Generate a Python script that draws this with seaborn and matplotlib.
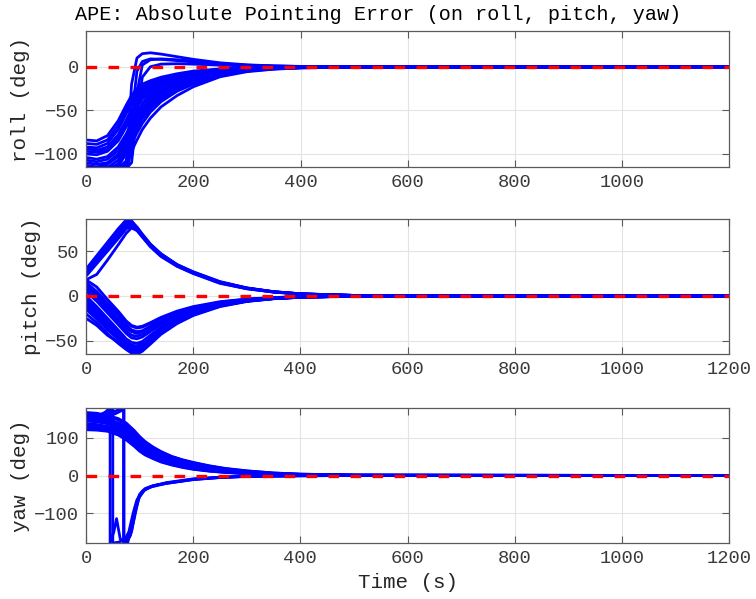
import numpy as np
import pandas as pd
import matplotlib
matplotlib.use("Agg")
import matplotlib.pyplot as plt
import seaborn as sns

# ---------------- data ----------------
TITLE = "APE: Absolute Pointing Error (on roll, pitch, yaw)"
XLABEL = "Time (s)"
YLABELS = ["roll (deg)", "pitch (deg)", "yaw (deg)"]

# common time grid for roll and pitch runs
t_rp = [0, 20, 40, 60, 75, 85, 95, 105, 120, 140, 170, 200, 250, 300, 350, 400, 500, 1200]

roll_slow = [
    [-84, -85, -79, -62, -44, -33, -25, -20, -16, -12, -8, -5, -2.5, -1.2, -0.6, -0.3, 0, 0],
    [-88, -89, -84, -67, -49, -38, -29, -23, -18, -13.5, -9, -6, -3, -1.4, -0.7, -0.3, 0, 0],
    [-92, -93, -88, -72, -54, -42, -33, -26, -20, -15, -10.5, -7, -3.5, -1.7, -0.8, -0.4, -0.1, 0],
    [-94, -96, -92, -78, -61, -49, -39, -31, -24, -18, -13, -9, -4.5, -2.2, -1, -0.5, -0.1, 0],
    [-97, -98, -95, -82, -65, -53, -42, -34, -27, -20, -14, -10, -5, -2.5, -1.2, -0.6, -0.1, 0],
    [-100, -101, -97, -85, -69, -57, -46, -37, -29, -22, -15.5, -11, -5.5, -2.7, -1.3, -0.6, -0.1, 0],
    [-104, -106, -103, -92, -77, -65, -53, -43, -34, -26, -18, -13, -6.5, -3.2, -1.6, -0.8, -0.1, 0],
    [-107, -109, -106, -96, -81, -69, -57, -47, -37, -28, -19.5, -14, -7, -3.5, -1.7, -0.8, -0.2, 0],
    [-110, -112, -110, -100, -85, -73, -61, -50, -39, -30, -21, -15, -7.5, -3.7, -1.8, -0.9, -0.2, 0],
    [-116, -118, -116, -107, -92, -80, -68, -57, -45, -35, -24.5, -17.5, -8.8, -4.3, -2.1, -1, -0.2, 0],
    [-122, -124, -123, -114, -100, -88, -76, -65, -52, -40, -28, -20, -10, -5, -2.5, -1.2, -0.2, 0],
    [-128, -130, -129, -122, -110, -97, -84, -72, -59, -46, -33, -23, -11.5, -5.7, -2.8, -1.4, -0.3, 0],
    [-119, -121, -119, -111, -95, -83, -71, -60, -48, -37, -26, -18.5, -9.3, -4.6, -2.3, -1.1, -0.2, 0],
    [-113, -115, -112, -103, -88, -76, -64, -53, -42, -32, -22.5, -16, -8, -4, -2, -1, -0.2, 0],
    [-125, -126, -125, -122, -112, -70, -38, -28, -21, -16, -11, -7.5, -3.8, -1.9, -0.9, -0.4, -0.1, 0],
    [-118, -119, -118, -116, -108, -80, -48, -34, -25, -19, -13, -9, -4.5, -2.2, -1, -0.5, -0.1, 0],
    [-130, -131, -130, -127, -118, -92, -60, -42, -31, -23, -16, -11, -5.5, -2.7, -1.3, -0.6, -0.1, 0],
]
roll_overshoot = [
    [-122, -123, -122, -121, -118, -20, 10, 15, 16, 14.5, 11.5, 8.5, 4.5, 2.2, 1, 0.4, 0.05, 0],
    [-125, -126, -125, -124, -121, -95, -30, 2, 8, 9, 8, 6.5, 3.5, 1.8, 0.8, 0.3, 0, 0],
    [-115, -116, -115, -114, -112, -60, -5, 6, 9, 8.5, 7, 5.5, 3, 1.5, 0.7, 0.3, 0, 0],
    [-119, -120, -119, -118, -117, -110, -55, -12, 0, 3, 3.5, 3, 1.8, 0.9, 0.4, 0.2, 0, 0],
]

pitch_up = [
    [30, 45, 60, 75, 85, 82, 74, 66, 56, 45, 34, 26, 15, 8.5, 4.5, 2.2, 0.5, 0],
    [28, 43, 58, 73, 83, 83, 75, 67, 57, 46, 34.5, 26.5, 15.5, 8.7, 4.6, 2.3, 0.5, 0],
    [27, 42, 57, 71, 82, 84, 77, 69, 58, 47, 35, 27, 16, 9, 4.8, 2.4, 0.5, 0],
    [25, 40, 54, 68, 79, 82, 77, 69, 58, 47, 35, 26.5, 15.5, 8.8, 4.6, 2.3, 0.5, 0],
    [24, 38, 52, 66, 76, 80, 76, 68, 57, 46, 34, 26, 15, 8.5, 4.5, 2.2, 0.5, 0],
    [22, 36, 50, 64, 75, 78, 74, 67, 56, 45, 33.5, 25.5, 14.5, 8, 4.3, 2.1, 0.5, 0],
    [18, 24, 40, 57, 70, 76, 73, 66, 55, 44, 33, 25, 14, 8, 4.2, 2, 0.4, 0],
]
pitch_down = [
    [15, 5, -8, -20, -30, -34, -36, -35, -31, -25, -18, -13, -7, -3.8, -2, -1, -0.2, 0],
    [10, 0, -13, -26, -36, -40, -42, -40, -35, -28, -20, -14.5, -8, -4.2, -2.2, -1.1, -0.2, 0],
    [5, -6, -19, -32, -42, -47, -48, -46, -40, -32, -23, -16.5, -9, -4.8, -2.5, -1.2, -0.2, 0],
    [0, -12, -25, -38, -48, -52, -53, -51, -44, -35, -25, -18, -10, -5.3, -2.7, -1.3, -0.3, 0],
    [-6, -18, -31, -43, -52, -57, -59, -56, -48, -38, -27, -19.5, -10.5, -5.6, -2.9, -1.4, -0.3, 0],
    [-12, -24, -37, -49, -58, -62, -64, -61, -52, -41, -29, -21, -11.5, -6, -3.1, -1.5, -0.3, 0],
    [-20, -30, -42, -53, -60, -64, -65, -62, -54, -43, -31, -22, -12, -6.3, -3.2, -1.6, -0.3, 0],
    [-25, -33, -44, -52, -56, -57, -56, -53, -46, -37, -27, -19.5, -10.5, -5.6, -2.9, -1.4, -0.3, 0],
    [12, 2, -10, -22, -33, -38, -40, -39, -34, -28, -20, -14, -7.5, -4, -2.1, -1, -0.2, 0],
    [-3, -15, -28, -41, -51, -55, -56, -54, -47, -37, -26.5, -19, -10.3, -5.5, -2.8, -1.4, -0.3, 0],
    [18, 10, -4, -17, -28, -33, -35, -34, -30, -24, -17, -12, -6.5, -3.5, -1.8, -0.9, -0.2, 0],
    [-15, -26, -38, -47, -54, -58, -61, -59, -51, -40, -28.5, -20.5, -11, -5.8, -3, -1.5, -0.3, 0],
    [8, -3, -16, -29, -39, -44, -45, -43, -38, -30, -21.5, -15.5, -8.5, -4.5, -2.3, -1.1, -0.2, 0],
    [-9, -21, -34, -46, -55, -60, -62, -59, -50, -39, -28, -20, -11, -5.8, -3, -1.5, -0.3, 0],
]

# yaw runs that decay from the top
t_yaw = [0, 20, 40, 60, 75, 90, 100, 110, 125, 140, 160, 180, 200, 230, 260, 300, 350, 400, 500, 1200]
yaw_top = [
    [168, 166, 160, 148, 134, 115, 100, 88, 74, 62, 50, 41, 34, 25, 18, 12, 6.5, 3.5, 1, 0],
    [160, 158, 152, 140, 127, 108, 94, 82, 68, 57, 46, 37, 30, 22, 16, 10.5, 5.5, 3, 0.8, 0],
    [152, 150, 145, 133, 120, 100, 87, 76, 63, 52, 42, 34, 27, 19.5, 14, 9, 4.8, 2.5, 0.7, 0],
    [145, 143, 138, 126, 112, 93, 80, 70, 58, 48, 38, 30, 24, 17, 12, 7.5, 4, 2.1, 0.6, 0],
    [138, 136, 131, 120, 106, 87, 74, 64, 53, 43, 34, 27, 21, 15, 10.5, 6.5, 3.4, 1.8, 0.5, 0],
    [130, 128, 124, 114, 100, 82, 69, 59, 48, 39, 30, 24, 18.5, 13, 9, 5.5, 2.9, 1.5, 0.4, 0],
    [122, 121, 118, 108, 95, 78, 65, 55, 45, 36, 28, 21.5, 16.5, 11.5, 8, 4.8, 2.5, 1.3, 0.3, 0],
    [165, 164, 160, 152, 140, 120, 104, 91, 76, 64, 51, 42, 35, 26, 19, 12.5, 6.8, 3.7, 1, 0],
    [156, 155, 150, 138, 124, 104, 90, 79, 66, 55, 44, 35, 28.5, 21, 15, 10, 5.2, 2.8, 0.8, 0],
    [134, 132, 128, 118, 104, 86, 72, 62, 51, 41, 32, 25.5, 20, 14, 10, 6, 3.1, 1.6, 0.4, 0],
    [148, 147, 143, 132, 118, 97, 84, 73, 60, 50, 40, 32, 25.5, 18, 13, 8.2, 4.4, 2.3, 0.6, 0],
    [126, 125, 121, 111, 98, 80, 67, 57, 46.5, 37.5, 29, 23, 17.5, 12.3, 8.5, 5.2, 2.7, 1.4, 0.3, 0],
]

# yaw runs that wrap through +180 / -180
yaw_wrap_t = [
    [0, 20, 35, 45, 45, 52, 57, 64, 75, 85, 92, 100, 110, 125, 150, 200, 250, 300, 400, 500, 1200],
    [0, 20, 38, 50, 50, 60, 72, 80, 88, 95, 105, 115, 130, 150, 200, 250, 300, 400, 500, 1200],
    [0, 20, 40, 55, 65, 71, 71, 78, 85, 92, 100, 110, 125, 150, 200, 250, 300, 400, 500, 1200],
    [0, 20, 40, 55, 70, 70, 76, 83, 90, 98, 108, 120, 150, 200, 250, 300, 400, 500, 1200],
]
yaw_wrap_v = [
    [150, 158, 168, 180, -180, -150, -115, -170, -175, -150, -95, -55, -38, -28, -19, -9, -4.5, -2, -0.5, -0.1, 0],
    [145, 152, 165, 180, -180, -178, -172, -150, -100, -65, -42, -33, -26, -20, -10, -5, -2.3, -0.6, -0.1, 0],
    [150, 152, 156, 165, 172, 180, -180, -178, -140, -85, -50, -35, -27, -21, -11, -5.5, -2.5, -0.6, -0.1, 0],
    [155, 160, 165, 172, 180, -180, -176, -160, -115, -62, -40, -31, -21, -10.5, -5.2, -2.4, -0.6, -0.1, 0],
]

ref_t = [0, 1200]
ref_v = [0, 0]

ylims = [(-115, 41), (-65, 86), (-180, 180)]
yticks = [[-100, -50, 0], [-50, 0, 50], [-100, 0, 100]]
xticks_all = [0, 200, 400, 600, 800, 1000, 1200]

# ---------------- build long tables ----------------
def table(times_list, values_list, prefix):
    rows = []
    for i, (tt, vv) in enumerate(zip(times_list, values_list)):
        for a, b in zip(tt, vv):
            rows.append((f"{prefix}{i}", a, b))
    return pd.DataFrame(rows, columns=["run", "t", "v"])

roll_runs = roll_slow + roll_overshoot
pitch_runs = pitch_up + pitch_down
df_roll = table([t_rp] * len(roll_runs), roll_runs, "r")
df_pitch = table([t_rp] * len(pitch_runs), pitch_runs, "p")
df_yaw = pd.concat([table([t_yaw] * len(yaw_top), yaw_top, "y"),
                    table(yaw_wrap_t, yaw_wrap_v, "w")], ignore_index=True)
frames = [df_roll, df_pitch, df_yaw]

# ---------------- style ----------------
sns.set_style("white")
plt.rcParams["font.family"] = ["Liberation Mono", "DejaVu Sans Mono"]

fig = plt.figure(figsize=(7.56, 5.99), dpi=100)
boxes = [
    [86 / 756, 1 - 167 / 599, 643 / 756, 136 / 599],
    [86 / 756, 1 - 354 / 599, 643 / 756, 135 / 599],
    [86 / 756, 1 - 543 / 599, 643 / 756, 135 / 599],
]
ref_df = pd.DataFrame({"t": ref_t, "v": ref_v})
for k in range(3):
    ax = fig.add_axes(boxes[k])
    sns.lineplot(data=frames[k], x="t", y="v", units="run", estimator=None,
                 sort=False, color="#0000ff", linewidth=2.0, ax=ax, legend=False)
    sns.lineplot(data=ref_df, x="t", y="v", color="#ff0000", linewidth=2.4,
                 linestyle=(0, (3.2, 3.4)), ax=ax, legend=False, zorder=5)
    ax.set_ylim(*ylims[k])
    if k == 0:
        ax.set_xlim(0, 1199)
        ax.set_xticks(xticks_all[:-1])
    else:
        ax.set_xlim(0, 1200)
        ax.set_xticks(xticks_all)
    ax.set_yticks(yticks[k])
    ax.grid(True, color="#e3e3e3", linewidth=0.8)
    ax.set_axisbelow(True)
    for s in ax.spines.values():
        s.set_color("#5a5a5a")
        s.set_linewidth(0.9)
    ax.tick_params(direction="in", length=5, width=0.8, colors="#5a5a5a",
                   labelcolor="#3a3a3a", labelsize=13.5, top=True, right=True,
                   left=True, bottom=True, pad=5)
    ax.set_ylabel(YLABELS[k], fontsize=15, color="#262626", labelpad=3)
    ax.set_xlabel("")
    if k == 2:
        ax.set_xlabel(XLABEL, fontsize=15, color="#262626", labelpad=4)

fig.text(0.5, 1 - 20 / 599, TITLE, ha="center", va="baseline",
         fontsize=14.5, color="black")

fig.savefig("out.png", dpi=100)
